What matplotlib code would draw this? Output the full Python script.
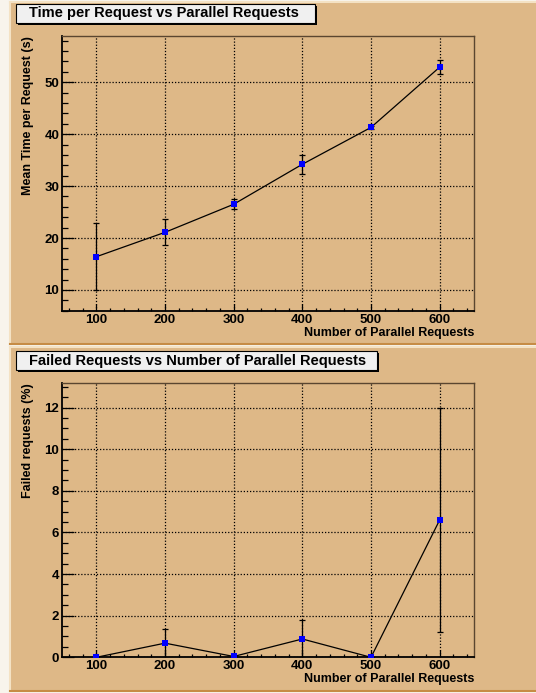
import matplotlib
matplotlib.use("Agg")
import matplotlib.pyplot as plt
from matplotlib.patches import Rectangle
from matplotlib.lines import Line2D
from matplotlib.ticker import MultipleLocator

plt.rcParams["font.family"] = ["Liberation Sans", "DejaVu Sans"]
plt.rcParams["font.weight"] = "bold"

# --- data ---
n_parallel = [100, 200, 300, 400, 500, 600]
mean_time = [16.4, 21.1, 26.5, 34.2, 41.3, 52.9]
mean_time_err = [6.4, 2.5, 1.0, 1.8, 0.3, 1.4]
failed_pct = [0.0, 0.68, 0.04, 0.88, 0.0, 6.6]
failed_err = [0.0, 0.7, 0.0, 0.9, 0.0, 5.4]

titles = ["Time per Request vs Parallel Requests",
          "Failed Requests vs Number of Parallel Requests"]
ylabels = ["Mean Time per Request (s)", "Failed requests (%)"]
xlabel = "Number of Parallel Requests"

W, H = 536, 693
PAD_COLOR = "#deb887"


def fx(px):
    return px / W


def fy(py):
    return 1 - py / H


def draw_pad(fig, x0, y0, x1, y1):
    fig.add_artist(Rectangle((fx(x0), fy(y1)), fx(x1) - fx(x0), fy(y0) - fy(y1),
                             transform=fig.transFigure, facecolor=PAD_COLOR,
                             edgecolor="none", zorder=0))
    light, dark = "#f4e2c4", "#c68c45"
    fig.add_artist(Line2D([fx(x0), fx(x0)], [fy(y1), fy(y0)], transform=fig.transFigure,
                          color=light, lw=1.5, zorder=0.5))
    fig.add_artist(Line2D([fx(x0), fx(x1)], [fy(y0), fy(y0)], transform=fig.transFigure,
                          color=light, lw=1.5, zorder=0.5))
    fig.add_artist(Line2D([fx(x0), fx(x1)], [fy(y1), fy(y1)], transform=fig.transFigure,
                          color=dark, lw=1.5, zorder=0.5))


def draw_title(fig, text, x0, y0, x1, y1):
    fig.add_artist(Rectangle((fx(x0 + 2), fy(y1 + 2)), fx(x1) - fx(x0), fy(y0) - fy(y1),
                             transform=fig.transFigure, facecolor="black",
                             edgecolor="none", zorder=1))
    fig.add_artist(Rectangle((fx(x0), fy(y1)), fx(x1) - fx(x0), fy(y0) - fy(y1),
                             transform=fig.transFigure, facecolor="#f0f0f0",
                             edgecolor="black", lw=0.8, zorder=2))
    fig.text(fx(x0 + 13), fy((y0 + y1) / 2), text, ha="left", va="center",
             fontsize=10.5, fontweight="bold", zorder=3)


def style_axes(ax, ylim, ymajor, yminor):
    ax.set_facecolor("none")
    ax.set_xlim(50, 650)
    ax.set_ylim(*ylim)
    ax.xaxis.set_major_locator(MultipleLocator(100))
    ax.xaxis.set_minor_locator(MultipleLocator(20))
    ax.yaxis.set_major_locator(MultipleLocator(ymajor))
    ax.yaxis.set_minor_locator(MultipleLocator(yminor))
    ax.tick_params(which="both", direction="in", top=False, right=False,
                   labelsize=9.5, width=0.9, color="black")
    ax.tick_params(axis="y", which="major", length=8.5, pad=2)
    ax.tick_params(axis="y", which="minor", length=4.3)
    ax.tick_params(axis="x", which="major", length=5, pad=2)
    ax.tick_params(axis="x", which="minor", length=2.5)
    ax.grid(True, which="major", color="black", linestyle=(0, (1, 1.5)), linewidth=0.9)
    for side in ("top", "right"):
        ax.spines[side].set_color("#5a4630")
        ax.spines[side].set_linewidth(1.0)
    for side in ("left", "bottom"):
        ax.spines[side].set_color("black")
        ax.spines[side].set_linewidth(1.3)


def draw_series(ax, x, y, err):
    ax.plot(x, y, color="black", lw=0.9, zorder=3)
    ax.errorbar(x, y, yerr=err, fmt="none", ecolor="black", elinewidth=0.9,
                capsize=2, capthick=0.9, zorder=3)
    ax.plot(x, y, "s", color="#0000ff", markersize=4.8, markeredgewidth=0, zorder=4)


fig = plt.figure(figsize=(W / 100, H / 100), dpi=100, facecolor="#f8f4ec")

draw_pad(fig, 10, 2, 536, 344)
draw_pad(fig, 10, 347, 536, 691)

# top panel
ax1 = fig.add_axes([fx(62), fy(311), fx(474) - fx(62), fy(36) - fy(311)])
style_axes(ax1, (5.95, 58.9), 10, 2)
draw_series(ax1, n_parallel, mean_time, mean_time_err)
draw_title(fig, titles[0], 16, 4, 315, 23)
fig.text(fx(28), fy(36), ylabels[0], rotation=90, ha="center", va="top", fontsize=9)
fig.text(fx(474), fy(333), xlabel, ha="right", va="center", fontsize=9)

# bottom panel
ax2 = fig.add_axes([fx(62), fy(657.3), fx(474) - fx(62), fy(382.7) - fy(657.3)])
style_axes(ax2, (0, 13.2), 2, 0.5)
draw_series(ax2, n_parallel, failed_pct, failed_err)
draw_title(fig, titles[1], 16, 351, 377, 370)
fig.text(fx(28), fy(383), ylabels[1], rotation=90, ha="center", va="top", fontsize=9)
fig.text(fx(474), fy(679), xlabel, ha="right", va="center", fontsize=9)

fig.savefig("out.png", dpi=100, facecolor=fig.get_facecolor())
